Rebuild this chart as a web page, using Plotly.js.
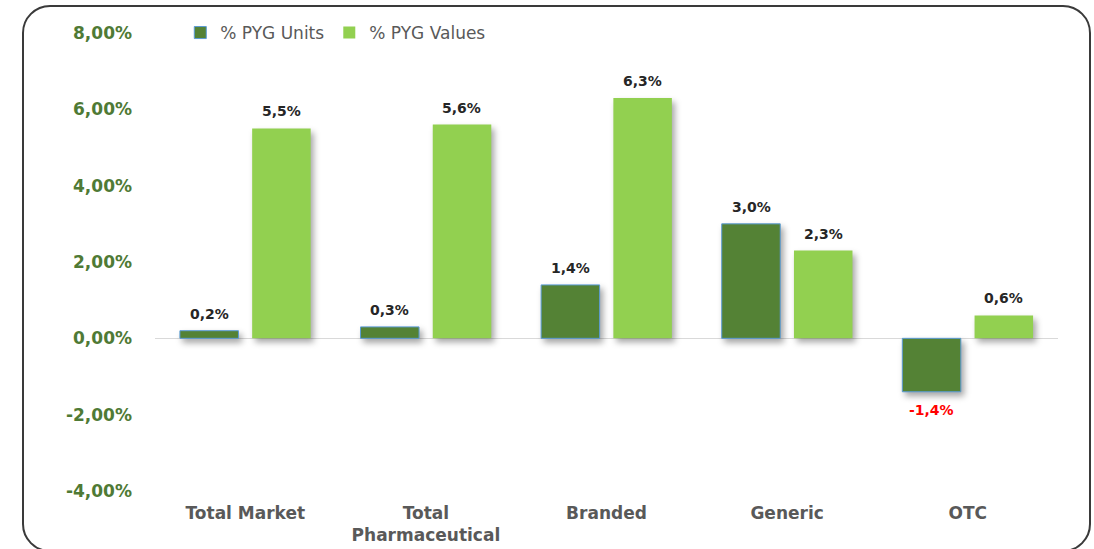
<!DOCTYPE html>
<html>
<head>
<meta charset="utf-8">
<script src="https://cdn.plot.ly/plotly-3.0.1.min.js"></script>
<style>
  html, body { margin:0; padding:0; background:#fff; }
  #wrap { position:relative; width:1094px; height:549px; overflow:hidden; }
  #frame { position:absolute; left:22px; top:5px; width:1069px; height:547px;
           border:2px solid #3a3a3a; border-radius:28px; box-sizing:border-box; }
  #chart { position:absolute; left:0; top:0; width:1094px; height:549px; }
  #chart .barlayer .point path { filter: drop-shadow(3px 4px 3px rgba(0,0,0,0.35)); }
</style>
</head>
<body>
<div id="wrap">
  <div id="frame"></div>
  <div id="chart"></div>
</div>
<script>
const categories = ["Total Market", "Total<br>Pharmaceutical", "Branded", "Generic", "OTC"];
const unitsValues = [0.2, 0.3, 1.4, 3.0, -1.4];
const valuesValues = [5.5, 5.6, 6.3, 2.3, 0.6];
const tickVals = [-4, -2, 0, 2, 4, 6, 8];
const tickText = ["-4,00%", "-2,00%", "0,00%", "2,00%", "4,00%", "6,00%", "8,00%"];

const fmt = v => v.toFixed(1).replace('.', ',') + '%';

const traces = [
  {
    type: 'bar', name: '% PYG Units', x: categories, y: unitsValues,
    marker: { color: '#548235', line: { color: '#5B9BD5', width: 1 } }
  },
  {
    type: 'bar', name: '% PYG Values', x: categories, y: valuesValues,
    marker: { color: '#92D050' }
  }
];

function makeLabels(vals, xshift) {
  return vals.map((v, i) => ({
    x: categories[i], y: v, xref: 'x', yref: 'y',
    text: fmt(v), showarrow: false, xshift: xshift, yshift: v < 0 ? -18 : 17,
    xanchor: 'center', yanchor: 'middle',
    font: { family: 'DejaVu Sans', size: 14, weight: 'bold', color: v < 0 ? '#FF0000' : '#262626' }
  }));
}

const layout = {
  width: 1094, height: 549,
  margin: { l: 155, r: 36, t: 33, b: 58 },
  paper_bgcolor: 'rgba(0,0,0,0)', plot_bgcolor: 'rgba(0,0,0,0)',
  barmode: 'group', bargap: 0.2, bargroupgap: 0.19,
  showlegend: true,
  legend: { orientation: 'h', x: 0.028, y: 1.0, xanchor: 'left', yanchor: 'middle',
            font: { family: 'DejaVu Sans', size: 17, color: '#595959' }, traceorder: 'normal' },
  xaxis: {
    showgrid: false, showline: false, ticks: '',
    tickfont: { family: 'DejaVu Sans', size: 17, color: '#595959', weight: 'bold' },
    ticklabelstandoff: 10
  },
  yaxis: {
    range: [-4, 8], tickvals: tickVals, ticktext: tickText,
    showgrid: false, showline: false, ticks: '',
    zeroline: true, zerolinecolor: '#D9D9D9', zerolinewidth: 1.5,
    tickfont: { family: 'DejaVu Sans', size: 17, color: '#4F7A35', weight: 'bold' },
    ticklabelstandoff: 22
  },
  annotations: makeLabels(unitsValues, -36).concat(makeLabels(valuesValues, 36)),
  font: { family: 'DejaVu Sans' }
};

Plotly.newPlot('chart', traces, layout, { displayModeBar: false, staticPlot: true });
</script>
</body>
</html>
